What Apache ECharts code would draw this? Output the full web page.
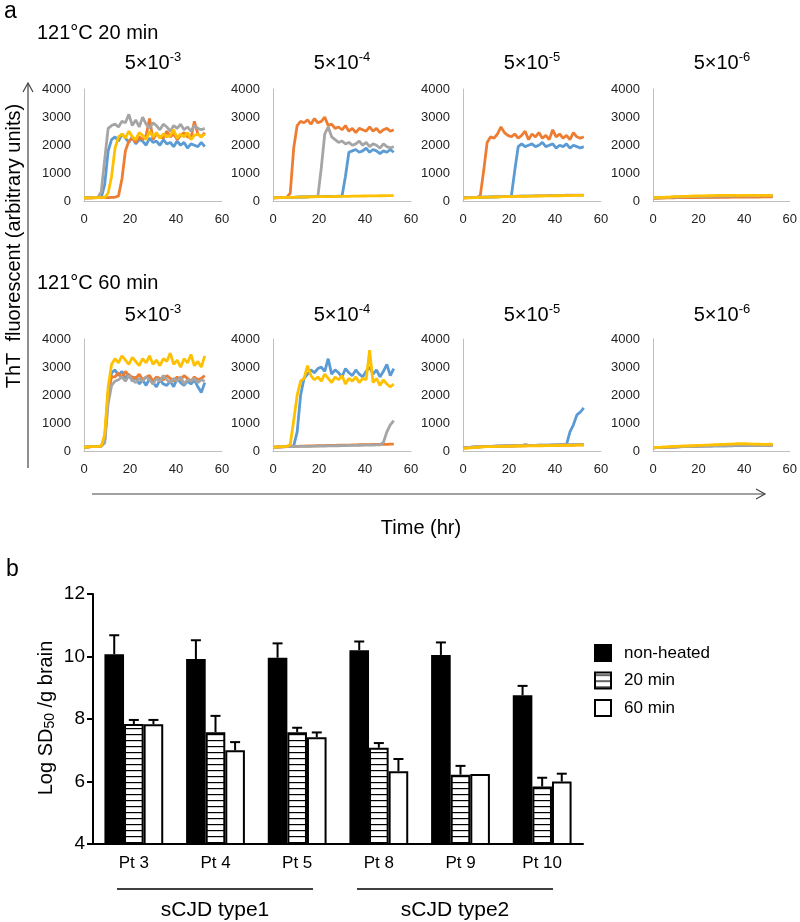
<!DOCTYPE html>
<html>
<head>
<meta charset="utf-8">
<script src="https://cdn.jsdelivr.net/npm/echarts@6/dist/echarts.min.js"></script>
<style>
  html, body { margin: 0; padding: 0; background: #fff; }
  #main { width: 800px; height: 922px; }
</style>
</head>
<body>
<div id="main"></div>
<script>
// time points (hr)
const T = [0,1.5,3,4.5,6,7.5,9,10.5,12,13.5,15,16.5,18,19.5,21,22.5,24,25.5,27,28.5,30,31.5,33,34.5,36,37.5,39,40.5,42,43.5,45,46.5,48,49.5,51,52.5];

// 121C 20 min, 5x10-3
const a20_3_blue = [130,130,130,135,140,140,600,1800,2200,2300,2150,2400,2250,2100,2300,2050,2200,2150,2000,2250,2100,2150,2000,2200,2050,2100,1950,2150,2000,2100,1900,2050,2000,1950,2100,1950];
const a20_3_orange = [130,130,130,130,135,135,140,140,145,150,200,800,1800,2150,2250,2100,2300,2200,2350,2950,2200,2400,2300,2250,2500,2300,2400,2200,2350,2450,2300,2250,2850,2400,2300,2450];
const a20_3_gray = [130,130,135,135,140,350,1500,2600,2700,2750,2650,2850,2800,3100,2700,2900,2650,3000,2750,2600,2800,2700,2550,2750,2650,2500,2700,2600,2750,2550,2650,2500,2700,2600,2550,2600];
const a20_3_yellow = [130,130,130,135,135,140,140,300,900,1900,2300,2400,2250,2500,2300,2200,2450,2350,2200,2500,2300,2450,2250,2400,2300,2350,2550,2250,2400,2300,2450,2200,2350,2400,2300,2400];
// 121C 20 min, 5x10-4
const a20_4_blue = [130,135,140,140,145,150,150,155,160,160,165,170,170,175,175,180,180,185,185,190,190,900,1750,1800,1850,1750,1800,1900,1750,1850,1800,1700,1800,1750,1850,1750];
const a20_4_orange = [130,130,140,140,150,300,1900,2700,2850,2800,2900,2750,2950,2800,2850,3000,2700,2750,2600,2650,2550,2700,2500,2600,2450,2600,2550,2500,2650,2500,2600,2450,2550,2600,2500,2550];
const a20_4_gray = [130,135,140,140,145,150,150,155,160,160,165,170,170,175,1200,2400,2650,2300,2200,2100,2150,2050,2100,2000,2050,2150,2000,2100,1950,2050,2000,1900,2050,1950,1900,1950];
const a20_4_yellow = [130,135,140,140,145,150,150,155,155,160,160,165,165,170,170,170,175,175,180,180,180,185,185,190,190,190,195,195,200,200,200,205,205,210,210,210];
// 121C 20 min, 5x10-5
const a20_5_blue = [130,135,140,140,145,150,150,155,160,160,165,170,170,175,180,1100,1950,2050,1950,2000,2050,1950,2000,2100,1950,2000,2050,1900,2000,1950,2050,1900,2000,1950,1900,1950];
const a20_5_orange = [130,135,140,140,145,200,1100,2100,2300,2250,2400,2650,2450,2350,2300,2400,2250,2350,2500,2200,2400,2300,2450,2250,2350,2200,2550,2300,2400,2250,2350,2200,2450,2300,2250,2300];
const a20_5_gray = [130,135,140,145,150,155,160,160,165,170,170,175,180,180,185,185,190,195,195,200,200,205,205,210,210,215,215,220,220,220,225,225,230,230,230,230];
const a20_5_yellow = [120,125,130,135,140,145,150,150,155,160,160,165,170,170,175,175,180,180,185,185,190,190,195,195,200,200,200,205,205,210,210,210,215,215,215,220];
// 121C 20 min, 5x10-6
const a20_6_blue = [120,125,130,135,135,140,140,145,145,150,150,150,155,155,160,160,160,165,165,165,170,170,170,175,175,175,180,180,180,180,185,185,185,185,190,190];
const a20_6_orange = [120,120,125,125,130,130,130,135,135,135,140,140,140,140,145,145,145,145,150,150,150,150,150,155,155,155,155,160,160,160,160,160,165,165,165,165];
const a20_6_gray = [125,130,135,140,145,150,155,160,160,165,170,170,175,175,180,180,185,185,190,190,190,195,195,195,200,200,200,200,205,205,205,205,210,210,210,210];
const a20_6_yellow = [130,135,140,150,155,160,170,175,180,180,185,190,195,195,200,200,205,210,210,215,215,220,215,220,215,210,220,215,215,220,215,210,220,215,210,215];

// 121C 60 min, 5x10-3
const a60_3_blue = [150,160,170,175,180,190,400,2000,2800,2900,2700,2850,2600,2750,2500,2650,2400,2550,2350,2600,2450,2300,2550,2400,2350,2500,2300,2600,2450,2350,2500,2400,2550,2300,2100,2450];
const a60_3_orange = [150,160,170,175,180,190,450,2100,2650,2650,2800,2600,2850,2700,2650,2600,2750,2550,2650,2700,2500,2650,2600,2550,2700,2600,2500,2650,2550,2700,2600,2500,2650,2550,2600,2700];
const a60_3_gray = [150,160,170,175,180,190,300,1700,2350,2500,2550,2650,2500,2700,2550,2450,2600,2500,2650,2550,2400,2600,2500,2700,2550,2450,2600,2500,2650,2400,2550,2500,2600,2450,2550,2500];
const a60_3_yellow = [150,160,170,175,180,190,600,2300,3100,3300,3150,3400,3250,3100,3350,3200,3050,3300,3150,3400,3100,3250,3050,3300,3200,3500,3100,3250,3000,3300,3150,3450,3050,3200,3000,3400];
// 121C 60 min, 5x10-4
const a60_4_blue = [150,160,170,175,180,190,200,700,2000,2600,2750,2900,2800,2950,3000,2850,3300,2750,2900,2800,2650,2950,2800,2700,2900,2750,2650,2850,3000,2750,2900,2650,2850,3100,2700,2950];
const a60_4_orange = [150,155,160,165,170,175,180,185,190,190,195,200,200,205,210,210,215,220,220,225,225,230,230,235,235,240,240,245,245,250,250,250,255,255,260,260];
const a60_4_gray = [150,155,160,165,170,170,175,175,180,180,185,185,190,190,195,195,200,200,205,205,210,210,215,215,220,220,225,225,230,230,235,240,320,700,950,1100];
const a60_4_yellow = [150,160,170,175,180,250,1100,2000,2500,2600,3050,2700,2550,2650,2500,2750,2600,2450,2650,2550,2700,2400,2600,2500,2650,2450,2600,2550,3600,2450,2600,2350,2550,2400,2300,2400];
// 121C 60 min, 5x10-5
const a60_5_blue = [130,140,150,160,165,170,175,180,185,190,195,195,200,200,205,205,210,210,215,215,220,220,225,225,230,230,235,235,240,240,245,700,950,1300,1400,1550];
const a60_5_orange = [120,130,140,150,160,165,170,175,180,185,185,190,190,195,195,200,200,205,205,210,210,210,215,215,220,220,220,225,225,225,230,230,230,235,235,235];
const a60_5_gray = [125,135,145,155,160,165,170,175,180,185,190,190,195,195,200,200,205,210,250,215,220,220,225,225,230,230,235,235,240,240,245,245,250,250,255,255];
const a60_5_yellow = [110,120,130,140,150,160,165,170,175,175,180,180,185,185,190,190,195,195,200,200,200,205,205,205,210,210,210,215,215,215,220,220,220,225,225,225];
// 121C 60 min, 5x10-6
const a60_6_blue = [130,135,140,145,150,155,160,165,170,175,180,180,185,185,190,190,195,195,200,200,200,205,205,205,210,210,210,210,215,215,215,215,220,220,220,220];
const a60_6_orange = [130,135,140,145,150,155,160,165,170,175,180,185,190,195,200,205,210,215,220,225,230,235,240,245,250,250,250,245,245,240,240,240,240,240,240,240];
const a60_6_gray = [130,135,140,145,150,150,155,160,165,170,170,175,180,180,185,190,190,195,200,200,205,205,210,210,215,215,220,220,220,225,225,225,230,230,230,230];
const a60_6_yellow = [140,145,150,160,165,170,180,185,190,195,200,205,210,215,220,225,230,235,240,245,250,255,260,265,270,275,280,275,270,265,260,260,255,255,260,255];

const dilutions = ['-3', '-4', '-5', '-6'];
const xTicks = [0, 20, 40, 60];
const yTicks = [0, 1000, 2000, 3000, 4000];

// panel b
const patients = ['Pt 3', 'Pt 4', 'Pt 5', 'Pt 8', 'Pt 9', 'Pt 10'];
const nonHeated = [10.07, 9.92, 9.96, 10.2, 10.05, 8.76];
const nonHeatedErr = [10.68, 10.52, 10.42, 10.48, 10.45, 9.06];
const min20 = [7.84, 7.58, 7.58, 7.08, 6.22, 5.84];
const min20Err = [7.97, 8.1, 7.72, 7.23, 6.5, 6.12];
const min60 = [7.83, 7.0, 7.42, 6.33, 6.24, 6.0];
const min60Err = [7.97, 7.26, 7.57, 6.72, null, 6.25];

const FONT = 'Liberation Sans, Arial, sans-serif';
const COLORS = ['#5b9bd5', '#ed7d31', '#a5a5a5', '#ffc000'];

const panels = [
  [a20_3_blue, a20_3_orange, a20_3_gray, a20_3_yellow],
  [a20_4_blue, a20_4_orange, a20_4_gray, a20_4_yellow],
  [a20_5_blue, a20_5_orange, a20_5_gray, a20_5_yellow],
  [a20_6_blue, a20_6_orange, a20_6_gray, a20_6_yellow],
  [a60_3_blue, a60_3_orange, a60_3_gray, a60_3_yellow],
  [a60_4_blue, a60_4_orange, a60_4_gray, a60_4_yellow],
  [a60_5_blue, a60_5_orange, a60_5_gray, a60_5_yellow],
  [a60_6_blue, a60_6_orange, a60_6_gray, a60_6_yellow]
];

const colLeft = [84, 273, 463, 653];
const rowTop = [89, 339];
const gw = 138, gh = 112.5;

const grids = [], xAxes = [], yAxes = [], series = [], graphics = [];

panels.forEach((p, i) => {
  const r = Math.floor(i / 4), c = i % 4;
  grids.push({ left: colLeft[c], top: rowTop[r], width: gw, height: gh });
  xAxes.push({
    type: 'value', gridIndex: i, min: xTicks[0], max: xTicks[3], interval: 20,
    axisLine: { lineStyle: { color: '#bfbfbf', width: 1 } },
    axisTick: { show: false }, splitLine: { show: false },
    axisLabel: { color: '#222', fontSize: 13, fontFamily: FONT, margin: 11 }
  });
  yAxes.push({
    type: 'value', gridIndex: i, min: yTicks[0], max: yTicks[4], interval: 1000,
    axisLine: { show: true, lineStyle: { color: '#bfbfbf', width: 1 } },
    axisTick: { show: false }, splitLine: { show: false },
    axisLabel: { color: '#222', fontSize: 13, fontFamily: FONT, margin: 13, formatter: v => String(v) }
  });
  p.forEach((arr, k) => {
    series.push({
      type: 'line', xAxisIndex: i, yAxisIndex: i,
      data: T.map((t, j) => [t, arr[j]]),
      showSymbol: false, silent: true, animation: false,
      lineStyle: { color: COLORS[k], width: 2.8 }
    });
  });
  graphics.push({
    type: 'text', x: colLeft[c] + gw / 2, y: r === 0 ? 63 : 315,
    style: {
      text: '5×10{sup|' + dilutions[c] + '}', align: 'center', verticalAlign: 'middle',
      fontSize: 20, fontFamily: FONT, fill: '#000',
      rich: { sup: { fontSize: 13, fontFamily: FONT, fill: '#000', padding: [0, 0, 11, 0] } }
    }
  });
});

// hatched pattern for 20 min
const pat = document.createElement('canvas');
pat.width = 8; pat.height = 6;
const pctx = pat.getContext('2d');
pctx.fillStyle = '#fff'; pctx.fillRect(0, 0, 8, 6);
pctx.fillStyle = '#000'; pctx.fillRect(0, 2, 8, 1.2);

// panel b grid index 8
grids.push({ left: 93, top: 594, width: 490, height: 250 });
xAxes.push({
  type: 'category', gridIndex: 8, data: patients,
  axisLine: { lineStyle: { color: '#000', width: 2 } },
  axisTick: { show: false },
  axisLabel: { color: '#000', fontSize: 17, fontFamily: FONT, margin: 11 }
});
yAxes.push({
  type: 'value', gridIndex: 8, min: 4, max: 12, interval: 2,
  axisLine: { show: true, lineStyle: { color: '#000', width: 2 } },
  axisTick: { show: true, length: 6, lineStyle: { color: '#000', width: 2 } },
  splitLine: { show: false },
  axisLabel: { color: '#000', fontSize: 19, fontFamily: FONT, margin: 8 }
});

const barDefs = [
  ['non-heated', nonHeated, nonHeatedErr, '#000'],
  ['20 min', min20, min20Err, { image: pat, repeat: 'repeat' }],
  ['60 min', min60, min60Err, '#fff']
];
const BARW = 0.24;
barDefs.forEach((b, idx) => {
  series.push({
    name: b[0], type: 'bar', xAxisIndex: 8, yAxisIndex: 8,
    data: b[1], barWidth: (BARW * 100) + '%', barGap: '0%',
    animation: false,
    itemStyle: { color: b[3], borderColor: '#000', borderWidth: 2 }
  });
});
barDefs.forEach((b, idx) => {
  const d = [];
  b[2].forEach((e, j) => { if (e != null) d.push([j, b[1][j], e]); });
  series.push({
    type: 'custom', xAxisIndex: 8, yAxisIndex: 8, data: d, animation: false, silent: true,
    z: 1,
    renderItem: function (params, api) {
      const p0 = api.coord([api.value(0), api.value(1)]);
      const p1 = api.coord([api.value(0), api.value(2)]);
      const band = api.size([1, 0])[0];
      const x = p0[0] + (idx - 1) * band * BARW;
      return {
        type: 'group', children: [
          { type: 'line', shape: { x1: x, y1: p0[1], x2: x, y2: p1[1] }, style: { stroke: '#000', lineWidth: 2 } },
          { type: 'line', shape: { x1: x - 5, y1: p1[1], x2: x + 5, y2: p1[1] }, style: { stroke: '#000', lineWidth: 2 } }
        ]
      };
    }
  });
});

// annotations
const txt = (x, y, s, size, extra) => ({
  type: 'text', x: x, y: y,
  style: Object.assign({ text: s, fontSize: size, fontFamily: FONT, fill: '#000' }, extra || {})
});
graphics.push(txt(4, 0, 'a', 23));
graphics.push(txt(37, 33, '121°C 20 min', 20, { verticalAlign: 'middle' }));
graphics.push(txt(37, 283, '121°C 60 min', 20, { verticalAlign: 'middle' }));
graphics.push({
  type: 'text', x: 14, y: 246, rotation: Math.PI / 2,
  style: { text: 'ThT  fluorescent (arbitrary units)', fontSize: 20, fontFamily: FONT, fill: '#000', align: 'center', verticalAlign: 'middle' }
});
graphics.push(txt(421, 528, 'Time (hr)', 20, { align: 'center', verticalAlign: 'middle' }));
const arrowStyle = { stroke: '#444', lineWidth: 1.2, fill: null };
graphics.push({ type: 'polyline', shape: { points: [[28, 468], [28, 83]] }, style: arrowStyle });
graphics.push({ type: 'polyline', shape: { points: [[23, 92], [28, 83], [33, 92]] }, style: arrowStyle });
graphics.push({ type: 'polyline', shape: { points: [[92, 494], [765, 494]] }, style: arrowStyle });
graphics.push({ type: 'polyline', shape: { points: [[756, 489], [765, 494], [756, 499]] }, style: arrowStyle });

graphics.push(txt(6, 558, 'b', 23));
graphics.push({
  type: 'text', x: 46, y: 718, rotation: Math.PI / 2,
  style: {
    text: 'Log SD{sub|50} /g brain', fontSize: 20, fontFamily: FONT, fill: '#000',
    align: 'center', verticalAlign: 'middle',
    rich: { sub: { fontSize: 14, fontFamily: FONT, fill: '#000', padding: [9, 0, 0, 0] } }
  }
});
graphics.push({ type: 'line', shape: { x1: 117, y1: 889, x2: 313, y2: 889 }, style: { stroke: '#000', lineWidth: 1.5 } });
graphics.push({ type: 'line', shape: { x1: 357, y1: 889, x2: 553, y2: 889 }, style: { stroke: '#000', lineWidth: 1.5 } });
graphics.push(txt(215, 910, 'sCJD type1', 21, { align: 'center', verticalAlign: 'middle' }));
graphics.push(txt(455, 910, 'sCJD type2', 21, { align: 'center', verticalAlign: 'middle' }));

const chart = echarts.init(document.getElementById('main'), null, { renderer: 'canvas' });
chart.setOption({
  animation: false,
  backgroundColor: '#fff',
  grid: grids,
  xAxis: xAxes,
  yAxis: yAxes,
  series: series,
  legend: {
    data: ['non-heated', '20 min', '60 min'],
    orient: 'vertical', left: 589, top: 639,
    icon: 'rect', itemWidth: 16, itemHeight: 16, itemGap: 9.5,
    selectedMode: false,
    textStyle: { fontSize: 17, fontFamily: FONT, color: '#000', padding: [0, 0, 0, 8] }
  },
  graphic: graphics
});
</script>
</body>
</html>
